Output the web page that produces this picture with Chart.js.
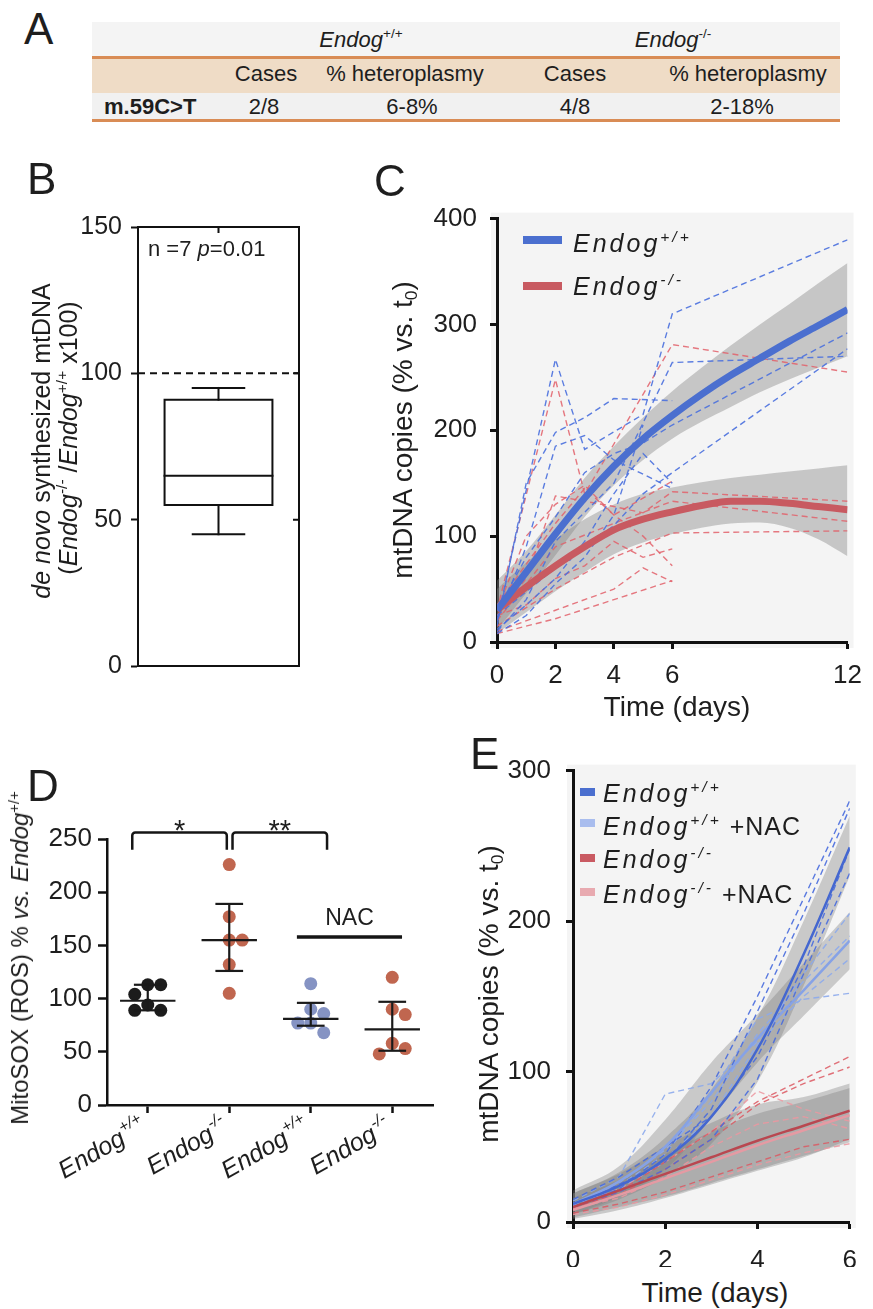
<!DOCTYPE html>
<html>
<head>
<meta charset="utf-8">
<title>Endog mtDNA figure</title>
<script src="https://cdn.jsdelivr.net/npm/chart.js@4.4.1/dist/chart.umd.min.js"></script>
<style>
html,body{margin:0;padding:0;background:#fff;}
#page{position:relative;width:873px;height:1309px;overflow:hidden;font-family:"Liberation Sans",Arial,Helvetica,sans-serif;color:#1e1e1e;}
#page canvas{position:absolute;}
.t{position:absolute;white-space:nowrap;line-height:1;}
.c{transform:translateX(-50%);}
.rot{transform:translate(-50%,-50%) rotate(-90deg);}
.sp{letter-spacing:3px;}
sup{font-size:0.62em;position:relative;top:-0.62em;vertical-align:baseline;line-height:0;}
sub{font-size:0.62em;position:relative;top:0.28em;vertical-align:baseline;line-height:0;}
.blk{position:absolute;}
</style>
</head>
<body>
<div id="page"></div>
<script>
// ======================= DATA =======================
// Panel A (table)
const tableGroupNames = ['Endog', 'Endog'];
const tableGroupSups = ['+/+', '-/-'];
const tableHeaders = ['Cases', '% heteroplasmy', 'Cases', '% heteroplasmy'];
const tableRowLabel = 'm.59C>T';
const tableRowValues = ['2/8', '6-8%', '4/8', '2-18%'];

// Panel B (box plot: min, q1, median, q3, max)
const bBoxValues = [45, 55, 65, 91, 95];
const bRefLine = 100;
const bYTicks = [0, 50, 100, 150];
const bN = 7;
const bP = '0.01';

// Panel C
const cDays = [0, 1, 2, 3, 4, 5, 6, 7, 8, 9, 10, 11, 12];
const cFitWT = [30, 66, 102, 136, 166, 192, 214, 234, 252, 268, 284, 299, 314];
const cBandWTLow = [11, 46, 82, 118, 148, 172, 192, 208, 222, 236, 248, 259, 270];
const cBandWTHigh = [58, 86, 120, 155, 185, 212, 237, 259, 280, 300, 319, 339, 358];
const cFitKO = [30, 52, 72, 90, 106, 116, 123, 129, 133, 133, 131, 128, 125];
const cBandKOLow = [8, 28, 48, 66, 83, 94, 102, 108, 112, 113, 108, 97, 81];
const cBandKOHigh = [50, 75, 97, 116, 130, 140, 146, 151, 155, 158, 161, 164, 167];
const cWTDays = [
  [0, 2, 3, 5, 6, 12], [0, 1, 2, 3, 4, 6], [0, 1, 2, 4, 6, 12], [0, 1, 2, 3, 4, 5, 6, 12],
  [0, 2, 4, 5, 6, 12], [0, 1, 2, 3, 4, 5, 6], [0, 1, 2, 3, 4, 6], [0, 1, 2, 3, 4, 5]
];
const cWTValues = [
  [20, 267, 182, 215, 310, 380], [15, 150, 198, 212, 230, 228], [10, 40, 95, 150, 264, 270], [30, 80, 118, 160, 178, 188, 205, 292],
  [25, 70, 110, 140, 160, 277], [12, 35, 60, 95, 140, 178, 150], [20, 90, 185, 195, 172, 145], [8, 25, 55, 80, 120, 205]
];
const cKODays = [
  [0, 2, 3, 6, 12], [0, 1, 2, 3, 4, 5, 6, 12], [0, 2, 4, 6, 12], [0, 2, 4, 6, 12], [0, 1, 2, 3, 4, 6],
  [0, 2, 4, 5, 6], [0, 2, 4, 6], [0, 1, 2, 3, 4, 5, 6], [0, 2, 3, 4, 5, 6]
];
const cKOValues = [
  [30, 248, 140, 281, 255], [25, 60, 138, 133, 128, 122, 142, 133], [20, 90, 112, 133, 114], [15, 50, 80, 103, 105], [30, 100, 130, 148, 120, 152],
  [10, 30, 50, 70, 57], [8, 22, 40, 58], [25, 35, 60, 72, 95, 80, 88], [35, 112, 145, 120, 100, 72]
];
const cXTicks = [0, 2, 4, 6, 12];
const cYTicks = [0, 100, 200, 300, 400];
const cLegendSups = ['+/+', '-/-'];

// Panel D
const dGroupSups = ['+/+', '-/-', '+/+', '-/-'];
const dValues = [
  [113, 113, 104, 94, 89, 89],
  [226, 177, 155, 155, 132, 105],
  [114, 90, 86, 77, 77, 68],
  [120, 90, 85, 58, 53, 48]
];
const dCenter = [98, 155, 81, 71];
const dErrHigh = [113, 189, 96, 97];
const dErrLow = [89, 126, 74.5, 51];
const dYTicks = [0, 50, 100, 150, 200, 250];
const dBracketFrom = [-0.19, 1.04];
const dBracketTo = [0.97, 2.2];
const dBracketTop = [256, 256];
const dBracketFoot = [240, 240];
const dBracketLabels = ['*', '**'];
const dNacSpan = [1.83, 3.12];
const dNacLineY = 158;
const dNacLabel = 'NAC';

// Panel E
const eDays = [0, 1, 2, 3, 4, 5, 6];
const eFitWT = [12, 24, 42, 70, 115, 178, 249];
const eBandWTLow = [5, 15, 30, 52, 93, 157, 230];
const eBandWTHigh = [19, 33, 56, 88, 136, 200, 270];
const eFitWTNAC = [12, 27, 50, 86, 122, 154, 187];
const eBandWTNACLow = [5, 17, 35, 69, 106, 137, 168];
const eBandWTNACHigh = [21, 37, 68, 106, 138, 172, 206];
const eFitKO = [10, 21, 32, 43, 54, 64, 74];
const eBandKOLow = [2, 8, 16, 25, 34, 43, 55];
const eBandKOHigh = [19, 32, 50, 66, 78, 83, 92];
const eFitKONAC = [8, 18, 29, 40, 51, 61, 71];
const eBandKONACLow = [3, 10, 17, 26, 35, 44, 53];
const eBandKONACHigh = [16, 28, 45, 60, 72, 80, 89];
const eIndivWT = [[10, 22, 45, 90, 150, 215, 280], [12, 25, 40, 75, 140, 205, 275], [15, 30, 50, 70, 110, 170, 248], [10, 20, 35, 55, 95, 165, 232]];
const eIndivWTNAC = [[14, 30, 85, 92, 120, 165, 205], [12, 26, 48, 80, 125, 160, 190], [10, 22, 42, 70, 118, 150, 175], [11, 24, 45, 85, 135, 148, 152]];
const eIndivKO = [[8, 20, 40, 60, 80, 95, 110], [10, 18, 35, 55, 78, 92, 103], [6, 12, 20, 30, 40, 50, 55]];
const eIndivKONAC = [[12, 22, 40, 60, 87, 75, 67], [5, 10, 18, 28, 38, 46, 52], [9, 16, 30, 50, 65, 70, 62]];
const eXTicks = [0, 2, 4, 6];
const eYTicks = [0, 100, 200, 300];
const eLegendSups = ['+/+', '+/+', '-/-', '-/-'];
const eLegendSuffix = ['', ' +NAC', '', ' +NAC'];

// ======================= HELPERS =======================
const page = document.getElementById('page');
const FONT = '"Liberation Sans", Arial, Helvetica, sans-serif';
const BL = 0.8465;
function el(tag, cls, style, html) {
  const d = document.createElement(tag);
  if (cls) d.className = cls;
  Object.assign(d.style, style || {});
  if (html != null) d.innerHTML = html;
  page.appendChild(d);
  return d;
}
function txt(html, x, baseline, size, center, style) {
  return el('div', 't' + (center ? ' c' : ''), Object.assign({ left: x + 'px', top: (baseline - BL * size) + 'px', fontSize: size + 'px' }, style || {}), html);
}
function rotTxt(html, cx, cy, size, style) {
  return el('div', 't rot', Object.assign({ left: cx + 'px', top: cy + 'px', fontSize: size + 'px' }, style || {}), html);
}
function blk(l, t, w, h, bg) { return el('div', 'blk', { left: l + 'px', top: t + 'px', width: w + 'px', height: h + 'px', background: bg }); }
function makeCanvas(left, top, w, h) {
  const c = document.createElement('canvas');
  c.width = w; c.height = h;
  Object.assign(c.style, { left: left + 'px', top: top + 'px', width: w + 'px', height: h + 'px' });
  page.appendChild(c);
  return c;
}
function pts(xs, ys) { return xs.map((x, i) => ({ x: x, y: ys[i] })); }
function setTicks(arr) { return s => { s.ticks = arr.map(v => ({ value: v })); }; }

Chart.defaults.font.family = FONT;
Chart.defaults.color = '#1e1e1e';

const plotBg = {
  id: 'plotBg',
  beforeDraw(chart, args, o) {
    const a = chart.chartArea, ctx = chart.ctx;
    ctx.save(); ctx.fillStyle = o.color;
    ctx.fillRect(a.left - o.pad, a.top - o.pad, a.width + 2 * o.pad, a.height + 2 * o.pad);
    ctx.restore();
  }
};
function baseOptions(pad) {
  return {
    responsive: false, animation: false, devicePixelRatio: 1,
    layout: { padding: pad },
    plugins: { legend: { display: false }, tooltip: { enabled: false } },
    elements: { point: { radius: 0 }, line: { tension: 0 } }
  };
}
function yAxis(min, max, ticksArr, width, size, tl, pad, lw) {
  return {
    type: 'linear', min: min, max: max,
    afterBuildTicks: setTicks(ticksArr), afterFit: s => { s.width = width; },
    ticks: { font: { size: size }, padding: pad, color: '#1e1e1e' },
    grid: { drawOnChartArea: false, drawTicks: true, tickLength: tl, tickColor: '#111', tickWidth: lw },
    border: { display: true, color: '#111', width: lw }
  };
}
function xAxis(min, max, ticksArr, height, size, tl, pad, lw, showLabels) {
  return {
    type: 'linear', min: min, max: max,
    afterBuildTicks: setTicks(ticksArr), afterFit: s => { s.height = height; },
    ticks: { display: showLabels, font: { size: size }, padding: pad, color: '#1e1e1e', maxRotation: 0, autoSkip: false },
    grid: { drawOnChartArea: false, drawTicks: true, tickLength: tl, tickColor: '#111', tickWidth: lw },
    border: { display: true, color: '#111', width: lw }
  };
}

// ======================= PANEL A =======================
blk(92, 22, 748, 34, '#f4f4f4');
blk(92, 56, 748, 3, '#d98c55');
blk(92, 59, 748, 34, '#efdcc6');
blk(92, 93, 748, 26, '#f1f1f1');
blk(92, 119, 748, 3, '#d98c55');
const tableGroupX = [361, 673];
const tableColX = [266, 405, 575, 748];
const tableValX = [264, 412, 575, 742];
tableGroupNames.forEach((n, i) => txt('<i>' + n + '</i><sup>' + tableGroupSups[i] + '</sup>', tableGroupX[i], 47.5, 22, true));
tableHeaders.forEach((h, i) => txt(h, tableColX[i], 82, 22, true));
txt(tableRowLabel.replace('>', '&gt;'), 104, 115, 22, false, { fontWeight: 'bold' });
tableRowValues.forEach((v, i) => txt(v, tableValX[i], 115, 22, true));

// ======================= PANEL B =======================
const frame = {
  id: 'frame',
  afterDraw(chart) {
    const a = chart.chartArea, ctx = chart.ctx, ys = chart.scales.y, xs = chart.scales.x;
    ctx.save(); ctx.strokeStyle = '#111'; ctx.lineWidth = 2;
    ctx.strokeRect(a.left, a.top, a.width, a.height);
    ctx.beginPath();
    bYTicks.forEach(v => { const y = ys.getPixelForValue(v); ctx.moveTo(a.right, y); ctx.lineTo(a.right - 6, y); });
    const xc = xs.getPixelForValue(0); ctx.moveTo(xc, a.top); ctx.lineTo(xc, a.top + 6);
    ctx.stroke(); ctx.restore();
  }
};
(function () {
  const [bMin, bQ1, bMed, bQ3, bMax] = bBoxValues;
  const BW = 0.67, CW = 0.32;
  const st = { borderColor: '#111', borderWidth: 2, pointRadius: 0, fill: false, borderCapStyle: 'square', borderJoinStyle: 'miter' };
  const sets = [
    Object.assign({}, st, { data: [{ x: -1, y: bRefLine }, { x: 1, y: bRefLine }], borderDash: [7, 5], borderCapStyle: 'butt' }),
    Object.assign({}, st, { data: [{ x: -BW, y: bQ1 }, { x: BW, y: bQ1 }, { x: BW, y: bQ3 }, { x: -BW, y: bQ3 }, { x: -BW, y: bQ1 }] }),
    Object.assign({}, st, { data: [{ x: -BW, y: bMed }, { x: BW, y: bMed }] }),
    Object.assign({}, st, { data: [{ x: 0, y: bQ3 }, { x: 0, y: bMax }] }),
    Object.assign({}, st, { data: [{ x: -CW, y: bMax }, { x: CW, y: bMax }] }),
    Object.assign({}, st, { data: [{ x: 0, y: bQ1 }, { x: 0, y: bMin }] }),
    Object.assign({}, st, { data: [{ x: -CW, y: bMin }, { x: CW, y: bMin }] })
  ];
  const opts = baseOptions({ left: 0, top: 37, right: 31, bottom: 24 });
  opts.scales = {
    x: { type: 'linear', min: -1, max: 1, display: false },
    y: yAxis(0, 150, bYTicks, 138, 25, 7, 9, 2)
  };
  new Chart(makeCanvas(0, 190, 330, 500), { type: 'line', data: { datasets: sets }, options: opts, plugins: [frame] });
})();

// ======================= PANEL C =======================
(function () {
  const sets = [];
  sets.push({ data: pts(cDays, cFitWT), borderColor: '#4b6fcf', borderWidth: 7, cubicInterpolationMode: 'monotone', fill: false, order: 0 });
  sets.push({ data: pts(cDays, cFitKO), borderColor: '#c85a61', borderWidth: 7, cubicInterpolationMode: 'monotone', fill: false, order: 1 });
  cWTDays.forEach((d, k) => sets.push({ data: pts(d, cWTValues[k]), borderColor: 'rgba(74,112,222,0.9)', borderWidth: 1.4, borderDash: [6, 4], fill: false, order: 2 }));
  cKODays.forEach((d, k) => sets.push({ data: pts(d, cKOValues[k]), borderColor: 'rgba(226,96,106,0.85)', borderWidth: 1.4, borderDash: [6, 4], fill: false, order: 2 }));
  [[cBandWTLow, cBandWTHigh], [cBandKOLow, cBandKOHigh]].forEach(b => {
    sets.push({ data: pts(cDays, b[0]), borderWidth: 0, fill: false, cubicInterpolationMode: 'monotone', order: 3 });
    sets.push({ data: pts(cDays, b[1]), borderWidth: 0, fill: '-1', backgroundColor: 'rgba(130,130,130,0.4)', cubicInterpolationMode: 'monotone', order: 3 });
  });
  const opts = baseOptions({ left: 0, top: 25, right: 16, bottom: 28 });
  opts.plugins.plotBg = { color: '#f4f4f4', pad: 6 };
  opts.scales = {
    x: xAxis(0, 12, cXTicks, 60, 26, 7, 11, 3, true),
    y: yAxis(0, 400, cYTicks, 127, 26, 7, 13, 3)
  };
  new Chart(makeCanvas(370, 190, 503, 540), { type: 'line', data: { datasets: sets }, options: opts, plugins: [plotBg] });
})();

// ======================= PANEL D =======================
function swarm(vals, pxPerX, pxPerY, r) {
  const placed = [], out = [];
  const order = vals.map((v, i) => i).sort((a, b) => vals[b] - vals[a]);
  const cand = [0];
  for (let k = 1; k < 10; k++) cand.push(k * r, -k * r);
  order.forEach(i => {
    const y = vals[i] * pxPerY;
    for (const c of cand) {
      if (placed.every(p => Math.hypot(p.x - c, p.y - y) >= 2 * r - 0.5)) { placed.push({ x: c, y: y }); out[i] = c / pxPerX; break; }
    }
  });
  return out;
}
(function () {
  const colors = ['#1c1c1c', '#c0664f', '#8593c3', '#c0664f'];
  const sets = [];
  const MW = 0.34, CW = 0.17;
  dValues.forEach((vals, g) => {
    const off = swarm(vals, 81.5, 266 / 250, 6.5);
    sets.push({ data: vals.map((v, i) => ({ x: g + off[i], y: v })), showLine: false, pointRadius: 6.5, pointBackgroundColor: colors[g], pointBorderWidth: 0, order: 1 });
    const seg = p => sets.push({ data: p, borderColor: '#1a1a1a', borderWidth: 2.2, fill: false, order: 0 });
    seg([{ x: g, y: dErrLow[g] }, { x: g, y: dErrHigh[g] }]);
    seg([{ x: g - CW, y: dErrHigh[g] }, { x: g + CW, y: dErrHigh[g] }]);
    seg([{ x: g - CW, y: dErrLow[g] }, { x: g + CW, y: dErrLow[g] }]);
    seg([{ x: g - MW, y: dCenter[g] }, { x: g + MW, y: dCenter[g] }]);
  });
  const dDecor = {
    id: 'dDecor',
    afterDraw(chart) {
      const ctx = chart.ctx, xs = chart.scales.x, ys = chart.scales.y, a = chart.chartArea;
      ctx.save();
      ctx.strokeStyle = '#151515'; ctx.fillStyle = '#1e1e1e'; ctx.lineWidth = 2.5; ctx.lineJoin = 'round';
      dBracketLabels.forEach((lab, i) => {
        const x1 = xs.getPixelForValue(dBracketFrom[i]), x2 = xs.getPixelForValue(dBracketTo[i]);
        const yt = ys.getPixelForValue(dBracketTop[i]), yf = ys.getPixelForValue(dBracketFoot[i]);
        ctx.beginPath(); ctx.moveTo(x1, yf); ctx.arcTo(x1, yt, x2, yt, 3); ctx.arcTo(x2, yt, x2, yf, 3); ctx.lineTo(x2, yf); ctx.stroke();
        ctx.font = '29px ' + FONT; ctx.textAlign = 'center'; ctx.textBaseline = 'alphabetic';
        ctx.fillText(lab, (x1 + x2) / 2, ys.getPixelForValue(249));
      });
      const n1 = xs.getPixelForValue(dNacSpan[0]), n2 = xs.getPixelForValue(dNacSpan[1]), ny = ys.getPixelForValue(dNacLineY);
      ctx.lineWidth = 3.5; ctx.beginPath(); ctx.moveTo(n1, ny); ctx.lineTo(n2, ny); ctx.stroke();
      ctx.font = '23px ' + FONT; ctx.textAlign = 'center';
      ctx.fillText(dNacLabel, (n1 + n2) / 2, ys.getPixelForValue(169.5));
      // rotated category labels
      const ang = -30 * Math.PI / 180;
      dGroupSups.forEach((sup, i) => {
        const x = xs.getPixelForValue(i);
        ctx.save(); ctx.translate(x, a.bottom + 26); ctx.rotate(ang);
        ctx.textAlign = 'right'; ctx.textBaseline = 'alphabetic';
        ctx.font = 'italic 16px ' + FONT;
        const sw = ctx.measureText(sup).width;
        ctx.fillText(sup, 0, -11);
        ctx.font = 'italic 25px ' + FONT;
        ctx.fillText('Endog', -sw - 1, 0);
        ctx.restore();
      });
      ctx.restore();
    }
  };
  const opts = baseOptions({ left: 0, top: 59, right: 17, bottom: 85 });
  opts.scales = {
    x: xAxis(-0.5, 3.5, [0, 1, 2, 3], 10, 24, 8, 4, 2.5, false),
    y: yAxis(0, 250, dYTicks, 107, 26, 9, 6, 2.5)
  };
  new Chart(makeCanvas(0, 780, 450, 420), { type: 'line', data: { datasets: sets }, options: opts, plugins: [dDecor] });
})();

// ======================= PANEL E =======================
(function () {
  const sets = [];
  const fits = [[eFitWT, '#4467d0', 0], [eFitWTNAC, '#86a2e6', 1], [eFitKO, '#b94750', 2], [eFitKONAC, '#e59aa3', 3]];
  fits.forEach(f => sets.push({ data: pts(eDays, f[0]), borderColor: f[1], borderWidth: 2.5, tension: 0.4, fill: false, order: f[2] }));
  const indiv = [[eIndivWT, 'rgba(72,108,222,0.9)'], [eIndivWTNAC, 'rgba(140,170,236,0.9)'], [eIndivKO, 'rgba(220,88,98,0.85)'], [eIndivKONAC, 'rgba(236,150,160,0.85)']];
  indiv.forEach(g => g[0].forEach(v => sets.push({ data: pts(eDays, v), borderColor: g[1], borderWidth: 1.4, borderDash: [6, 4], fill: false, order: 5 })));
  [[eBandWTLow, eBandWTHigh], [eBandWTNACLow, eBandWTNACHigh], [eBandKOLow, eBandKOHigh], [eBandKONACLow, eBandKONACHigh]].forEach(b => {
    sets.push({ data: pts(eDays, b[0]), borderWidth: 0, fill: false, tension: 0.4, order: 6 });
    sets.push({ data: pts(eDays, b[1]), borderWidth: 0, fill: '-1', backgroundColor: 'rgba(125,125,125,0.36)', tension: 0.4, order: 6 });
  });
  const opts = baseOptions({ left: 0, top: 27, right: 16, bottom: 3 });
  opts.plugins.plotBg = { color: '#f4f4f4', pad: 6 };
  opts.scales = {
    x: xAxis(0, 6, eXTicks, 45, 26, 7, 16, 3, true),
    y: yAxis(0, 300, eYTicks, 123, 26, 7, 15, 3)
  };
  new Chart(makeCanvas(450, 740, 423, 530), { type: 'line', data: { datasets: sets }, options: opts, plugins: [plotBg] });
})();

// ======================= TEXT OVERLAYS =======================
// panel letters
txt('A', 24, 44.5, 44);
txt('B', 27, 194.5, 44);
txt('C', 374, 196.5, 44);
txt('D', 27, 801.5, 44);
txt('E', 470, 769.5, 44);

// B
rotTxt('<i>de novo</i> synthesized mtDNA', 41, 441, 25);
rotTxt('(<i>Endog</i><sup>-/-</sup> /<i>Endog</i><sup>+/+</sup> x100)', 68, 438, 25);
txt('n =' + bN + ' <i>p</i>=' + bP, 148, 257, 22);

// C
rotTxt('mtDNA copies (% vs. t<sub>0</sub>)', 403, 430, 28);
txt('Time (days)', 677, 717, 28, true);
blk(523, 236, 39, 8, '#4b6fcf');
blk(523, 282, 39, 8, '#c85a61');
txt('<i class="sp">Endog<sup>' + cLegendSups[0] + '</sup></i>', 573, 252, 25);
txt('<i class="sp">Endog<sup>' + cLegendSups[1] + '</sup></i>', 573, 295, 25);

// D
rotTxt('MitoSOX (ROS) % <i>vs. Endog</i><sup>+/+</sup>', 20, 958, 24);

// E
rotTxt('mtDNA copies (% vs. t<sub>0</sub>)', 489, 994, 28);
txt('Time (days)', 715, 1303, 28, true);
const eSw = ['#4b6fcf', '#a9bdee', '#c95a62', '#e8aab0'];
const eSwTop = [788, 819, 854, 888];
const eBase = [802, 835, 868, 903];
eLegendSups.forEach((s, i) => {
  blk(580, eSwTop[i], 15, 8, eSw[i]);
  txt('<i class="sp">Endog<sup>' + s + '</sup></i><span style="letter-spacing:1px">' + eLegendSuffix[i] + '</span>', 603, eBase[i], 25);
});
</script>
</body>
</html>
